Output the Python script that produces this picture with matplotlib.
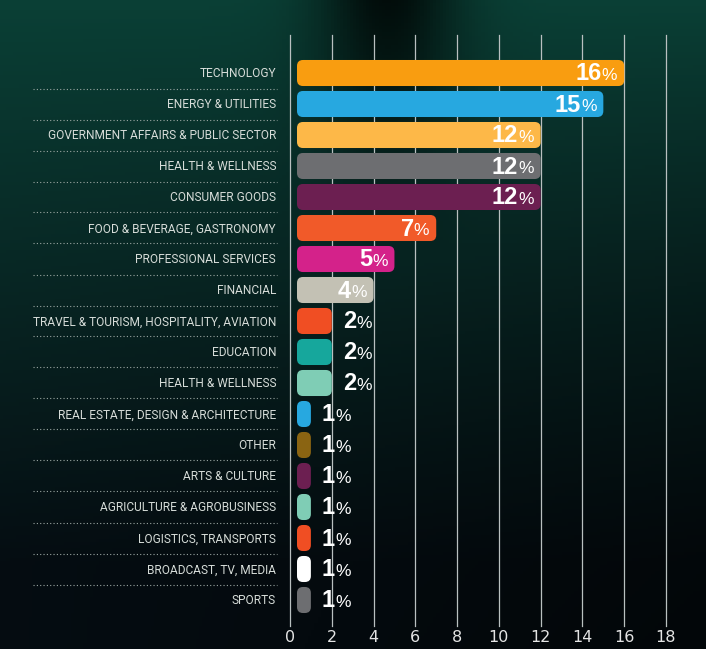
import numpy as np
import matplotlib
matplotlib.use("Agg")
import matplotlib.pyplot as plt
from matplotlib.patches import FancyBboxPatch

categories = ["TECHNOLOGY", "ENERGY & UTILITIES", "GOVERNMENT AFFAIRS & PUBLIC SECTOR",
              "HEALTH & WELLNESS", "CONSUMER GOODS", "FOOD & BEVERAGE, GASTRONOMY",
              "PROFESSIONAL SERVICES", "FINANCIAL", "TRAVEL & TOURISM, HOSPITALITY, AVIATION",
              "EDUCATION", "HEALTH & WELLNESS", "REAL ESTATE, DESIGN & ARCHITECTURE",
              "OTHER", "ARTS & CULTURE", "AGRICULTURE & AGROBUSINESS",
              "LOGISTICS, TRANSPORTS", "BROADCAST, TV, MEDIA", "SPORTS"]
values = [16, 15, 12, 12, 12, 7, 5, 4, 2, 2, 2, 1, 1, 1, 1, 1, 1, 1]
colors = ["#f99d10", "#27a8e0", "#fdb848", "#6d6e71", "#6c1f51", "#f15a29",
          "#d4228a", "#c3c1b4", "#f04e23", "#16a79c", "#7fcdb5", "#27a8e0",
          "#8a6412", "#6c1f51", "#7fcdb5", "#f04e23", "#ffffff", "#6d6e71"]
xticks = [0, 2, 4, 6, 8, 10, 12, 14, 16, 18]

W, H = 706, 649
fig = plt.figure(figsize=(W / 100, H / 100), dpi=100)

# background gradient
bg = fig.add_axes([0, 0, 1, 1])
yy, xx = np.mgrid[0:1:200j, 0:1:220j]
top = np.array([0.04, 0.25, 0.21])
bot = np.array([0.02, 0.05, 0.07])
t = np.clip(yy * 1.15, 0, 1)[..., None]
img = top * (1 - t) + bot * t
# dark band near the top
band = np.exp(-((xx - 0.55) / 0.1) ** 2) * np.clip(1 - yy * 2.5, 0, 1)
img = img * (1 - 0.8 * band[..., None])
# darker towards the bottom right
img = img * (1 - 0.5 * (xx * yy)[..., None])
bg.imshow(img, aspect="auto", extent=[0, 1, 1, 0])
bg.axis("off")

ax = fig.add_axes([290 / W, 1 - 626 / H, 376 / W, 591 / H])
ax.patch.set_alpha(0)
ax.set_xlim(0, 18)
n = len(categories)
ax.set_ylim(n - 1 + 26 / 31, -38 / 31)
for s in ax.spines.values():
    s.set_visible(False)
ax.set_yticks([])
ax.set_xticks(xticks)
ax.tick_params(axis="x", length=0, pad=3, labelsize=11.5, labelcolor="#e4e4e4")
for x in xticks:
    ax.axvline(x, color="#b9c0c0", lw=0.9, zorder=1, clip_on=False)

px = 376 / 18  # pixels per unit along x
start = 7 / px
for i, (cat, v, c) in enumerate(zip(categories, values, colors)):
    h = 0.84
    box = FancyBboxPatch((start, i - h / 2), v - start, h,
                         boxstyle="round,pad=0,rounding_size=%.3f" % (6 / px),
                         mutation_aspect=px / 31,
                         fc=c, ec="none", zorder=3)
    ax.add_patch(box)

    ax.text(-0.67, i + 0.03, cat, ha="right", va="center", fontsize=8.6,
            family="Roboto", color="#d6dcd8", clip_on=False)
    if i < n - 1:
        ax.plot([-12.3, -0.62], [i + 0.5, i + 0.5], ls=(0, (1, 2)), lw=0.8,
                color="#9aa6a2", clip_on=False)

    if v >= 4:
        pct = ax.annotate("%", xy=(v, i), xytext=(-5, -7.5), textcoords="offset points",
                          ha="right", va="bottom", fontsize=12.5, color="white",
                          family="Liberation Sans", zorder=4)
        ax.annotate(str(v), xy=(0, 0), xycoords=pct, ha="right", va="bottom",
                    xytext=(0, -1.5), textcoords="offset points",
                    fontsize=17, fontweight="bold", color="white",
                    family="Liberation Sans", zorder=4)
    else:
        num = ax.annotate(str(v), xy=(v, i), xytext=(8, -9), textcoords="offset points",
                          ha="left", va="bottom", fontsize=17, fontweight="bold",
                          color="white", family="Liberation Sans", zorder=4)
        ax.annotate("%", xy=(1, 0), xycoords=num, ha="left", va="bottom",
                    xytext=(0, 1.5), textcoords="offset points",
                    fontsize=12.5, color="white", family="Liberation Sans", zorder=4)

fig.savefig("out.png", dpi=100)
